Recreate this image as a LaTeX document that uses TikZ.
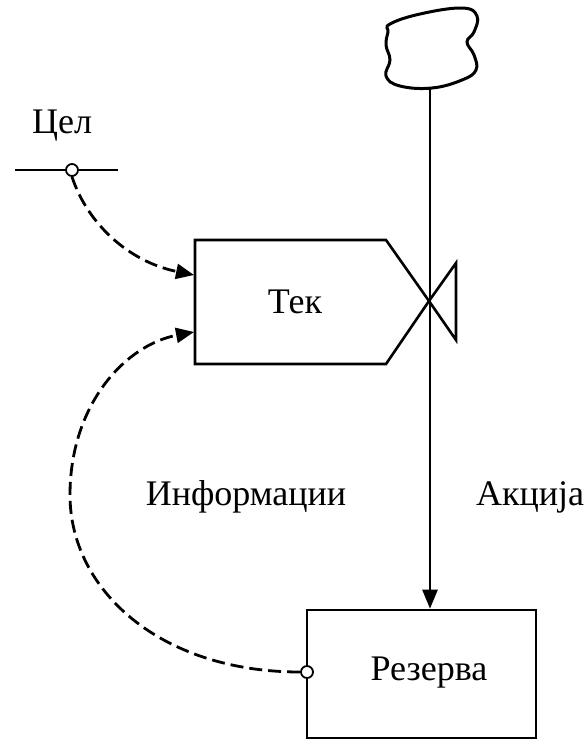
\documentclass[tikz,border=0pt]{standalone}
\usepackage{fontspec}
\setmainfont{Liberation Serif}
\usetikzlibrary{arrows.meta}
\begin{document}
\begin{tikzpicture}[x=1pt,y=-1pt,
  lbl/.style={font=\fontsize{36}{40}\selectfont, inner sep=0pt},
  solidln/.style={line width=2.6pt},
  infoln/.style={line width=2.8pt, dash pattern=on 13pt off 6pt, -{Triangle[length=18pt,width=15pt]}},
  tapcircle/.style={circle, draw, line width=1.8pt, fill=white, minimum size=12pt, inner sep=0pt}]
\useasboundingbox (0,0) rectangle (588,742);
% cloud
\draw[line width=3pt] plot[smooth cycle, tension=0.7] coordinates {
  (390,24) (420,14) (462,8) (477,16) (474,32) (467,42) (474,55) (476,70) (462,80) (432,88) (400,86) (386,76) (390,60) (386,45) (388,32)};
\coordinate (cloudbot) at (430,87);
% Tek (rate) box
\coordinate (valve) at (429,301);
\draw[solidln, line join=miter] (195,240) -- (386,240) -- (valve) -- (386,364) -- (195,364) -- cycle;
\draw[solidln] (valve) -- (456,263) -- (456,340) -- cycle;
\node[lbl] (tek) at (295,302) {Тек};
% Reserve
\node[draw, solidln, minimum width=229pt, minimum height=128pt, inner sep=0pt] (res) at (421.5,674) {};
\node[lbl] (reslbl) at (429,673) {Резерва};
% action flow
\draw[solidln, -{Triangle[length=19pt,width=15pt]}] (cloudbot) -- (res.north -| cloudbot);
% goal
\node[lbl] (cel) at (62,126) {Цел};
\coordinate (gl) at (15,170);
\coordinate (gr) at (118,170);
\draw[line width=2.2pt] (gl) -- (gr);
\node[tapcircle] (goaltap) at (72,170) {};
\node[tapcircle] (restap) at (307,672) {};
% info links
\coordinate (in1) at (194,275);
\coordinate (in2) at (194,332);
\draw[infoln] (goaltap.south) .. controls (88,225) and (130,262) .. (in1);
\draw[infoln] (restap.west) .. controls (160,672) and (70,590) .. (70,495) .. controls (70,405) and (125,345) .. (in2);
% labels
\node[lbl] (info) at (246,497) {Информации};
\node[lbl, anchor=west] (akc) at (476,497) {Акција};
\end{tikzpicture}
\end{document}
